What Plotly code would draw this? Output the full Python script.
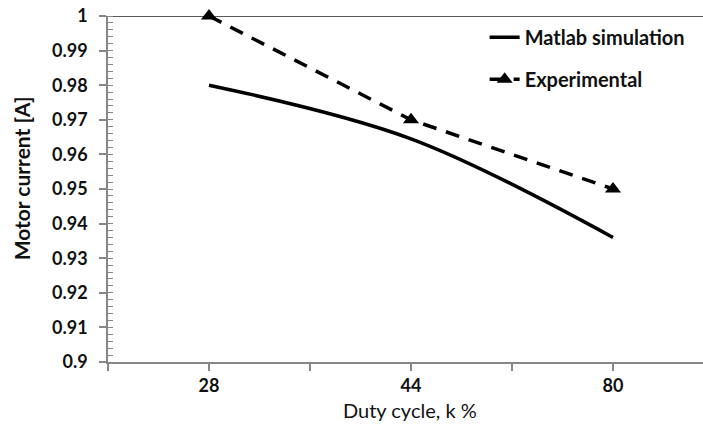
import plotly.graph_objects as go

categories = ["28", "44", "80"]
matlab_sim = [0.980, 0.9645, 0.936]
experimental = [1.000, 0.970, 0.950]

x_pos = list(range(1, len(categories) + 1))

FONT = "Lato"
TXT = "#111111"

fig = go.Figure()
fig.add_trace(go.Scatter(
    x=x_pos, y=matlab_sim, name="Matlab simulation", mode="lines",
    line=dict(color="black", width=3.5, shape="spline"),
    legendgroup="a", cliponaxis=False,
))
fig.add_trace(go.Scatter(
    x=x_pos, y=experimental, name="Experimental", mode="lines+markers",
    line=dict(color="black", width=3.5, dash="14px,10px"),
    marker=dict(symbol="triangle-up", size=14, color="black"),
    legendgroup="b", cliponaxis=False,
))

fig.update_layout(
    width=703, height=433,
    margin=dict(l=108, r=0, t=16, b=71),
    paper_bgcolor="white", plot_bgcolor="white",
    font=dict(family=FONT, size=18, color=TXT, weight="bold"),
    showlegend=True,
    legend=dict(
        x=0.633, y=0.995, xanchor="left", yanchor="top",
        bgcolor="rgba(0,0,0,0)", traceorder="grouped", tracegroupgap=13,
        font=dict(family=FONT, size=20, color=TXT, weight="bold"),
    ),
    xaxis=dict(
        range=[0.5, 0.5 + 595 / 202],
        tickvals=x_pos, ticktext=categories,
        ticks="outside", ticklen=7, tickcolor="#868686", tickwidth=1.5,
        showline=True, linecolor="#868686", linewidth=1.5,
        showgrid=False, zeroline=False,
        minor=dict(tick0=0.5, dtick=0.5, ticks="outside", ticklen=7,
                   tickcolor="#868686", tickwidth=1.5, showgrid=False),
        tickfont=dict(family=FONT, size=18, color=TXT, weight="bold"),
    ),
    yaxis=dict(
        range=[0.9, 1.0], dtick=0.01, tick0=0.9, tickformat=".2~f",
        ticks="outside", ticklen=7, tickcolor="#868686", tickwidth=1.5,
        ticklabelstandoff=8,
        showline=True, linecolor="#868686", linewidth=1.5,
        showgrid=False, zeroline=False,
        minor=dict(dtick=0.002, ticks="inside", ticklen=5,
                   tickcolor="#868686", tickwidth=1.2, showgrid=False),
        tickfont=dict(family=FONT, size=18, color=TXT, weight="bold"),
    ),
    shapes=[dict(type="line", xref="paper", yref="y", x0=0, x1=1, y0=1.0, y1=1.0,
                 line=dict(color="#595959", width=2), layer="below")],
    annotations=[
        dict(text="Motor current [A]", xref="paper", yref="paper",
             x=-0.145, y=0.53, textangle=-90, showarrow=False,
             xanchor="center", yanchor="middle",
             font=dict(family=FONT, size=21, color=TXT, weight="bold")),
        dict(text="Duty cycle, k %", xref="paper", yref="paper",
             x=0.508, y=-0.14, showarrow=False,
             xanchor="center", yanchor="middle",
             font=dict(family=FONT, size=20, color=TXT, weight="normal")),
    ],
)

fig.write_html("out.html")
